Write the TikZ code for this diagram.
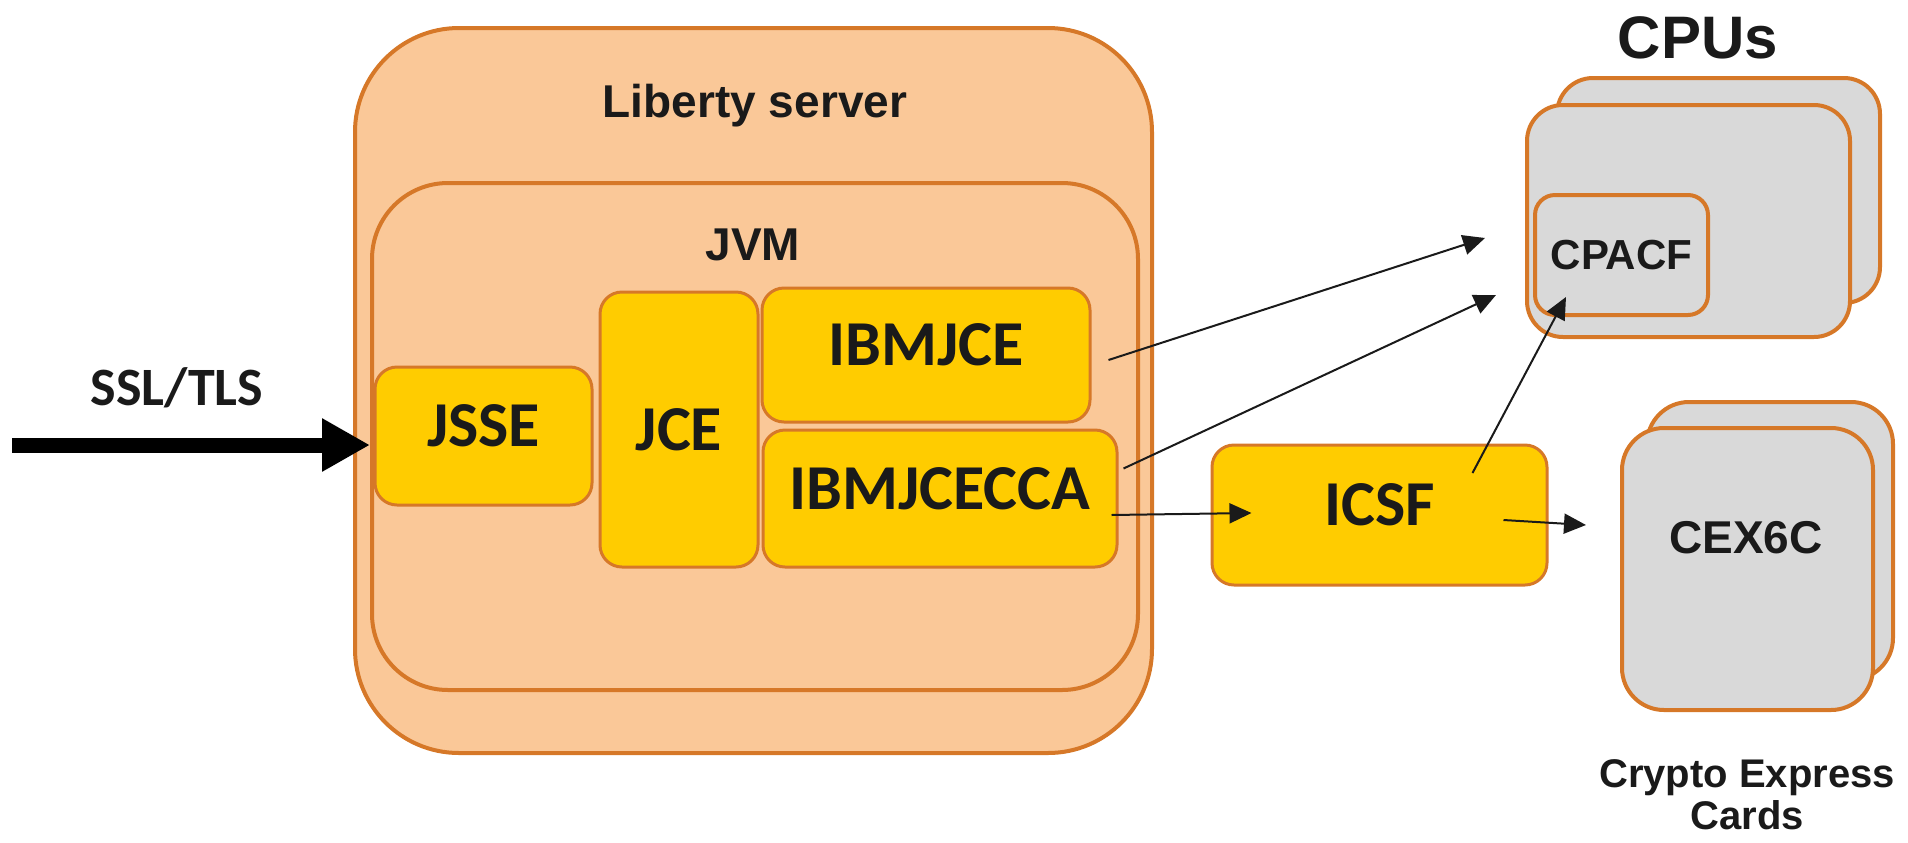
\documentclass[tikz,border=0pt]{standalone}
\usepackage{fontspec}
\setmainfont{Liberation Sans}
\newfontfamily\carlito{Carlito}
\usetikzlibrary{arrows.meta}
\usetikzlibrary{calc}
\definecolor{peach}{RGB}{250,200,152}
\definecolor{rim}{RGB}{214,120,40}
\definecolor{gold}{RGB}{255,204,0}
\definecolor{cardgray}{RGB}{217,217,217}
\definecolor{ink}{RGB}{26,26,26}

\begin{document}
\begin{tikzpicture}[
            x=0.5pt, y=-0.5pt,
            outerbox/.style = {draw=rim, line width=2pt, fill=peach, rounded corners=#1, inner sep=0},
            compbox/.style = {draw=rim, line width=1.5pt, fill=gold, rounded corners=11pt, inner sep=0,
                              text=ink, text depth=10pt, font=\carlito\bfseries\fontsize{32}{36}\selectfont},
            cardbox/.style = {draw=rim, line width=2pt, fill=cardgray, rounded corners=#1, inner sep=0},
            title/.style = {anchor=base, inner sep=0, text=ink, font=\bfseries\fontsize{23}{26}\selectfont},
            link/.style = {-{Triangle[length=11pt, width=10pt]}, line width=1pt, ink},
            bigarrow/.style = {-{Triangle[length=24pt, width=25pt]}, line width=7.5pt, black}
          ]
          \useasboundingbox (0,0) rectangle (1908,842);

          % server and JVM
          \node[outerbox=52pt, minimum width=398.5pt, minimum height=362.5pt] (liberty) at (753.5,390.5) {};
          \node[outerbox=38pt, minimum width=383pt, minimum height=253.5pt] (jvm) at (755,436.5) {};
          \node[title] (liberty_lbl) at (755,117) {Liberty server};
          \node[title] (jvm_lbl) at (753,260) {JVM};

          \node[compbox, minimum width=108.5pt, minimum height=69pt] (jsse) at (483.5,436) {JSSE};
          \node[compbox, text depth=0pt, minimum width=79pt, minimum height=137.5pt] (jce) at (679,429.5) {JCE};
          \node[compbox, minimum width=164pt, minimum height=67pt] (ibmjce) at (926,355) {IBMJCE};
          \node[compbox, minimum width=177pt, minimum height=68.5pt] (ibmjceca) at (940,498.5) {IBMJCECCA};
          \node[compbox, minimum width=167.5pt, minimum height=70pt] (icsf) at (1379.5,515) {ICSF};

          % hardware
          \node[cardbox=18pt, minimum width=161.5pt, minimum height=112.5pt] (cpu_back) at (1718.5,190.5) {};
          \node[cardbox=18pt, minimum width=161.5pt, minimum height=116pt] (cpu_front) at (1688.5,221) {};
          \node[cardbox=10pt, minimum width=86.5pt, minimum height=60pt, text=ink,
                font=\bfseries\fontsize{21}{24}\selectfont] (cpacf) at (1621.5,255) {CPACF};
          \node[title, font=\bfseries\fontsize{30}{34}\selectfont] (cpus_lbl) at (1698,58) {CPUs};

          \node[cardbox=21pt, minimum width=123pt, minimum height=139pt] (cex_back) at (1770,541) {};
          \node[cardbox=21pt, minimum width=125.5pt, minimum height=141pt] (cex_front) at (1747.5,569) {};
          \node[title] (cex_lbl) at (1746,553) {CEX6C};
          \node[align=center, inner sep=0, text=ink, font=\bfseries\fontsize{20}{21}\selectfont] (cex_note) at (1747,795) {Crypto Express\\Cards};

          % incoming traffic
          \coordinate (tls_in) at (12,445);
          \draw[bigarrow] (tls_in) -- (tls_in -| jvm.west);
          \node[title, font=\carlito\bfseries\fontsize{27}{30}\selectfont] (tls_lbl) at (177,405) {SSL/TLS};

          \draw[link] ($(ibmjce.east)+(17,5)$) -- ($(cpu_front.west)+(-40,17)$);
          \draw[link] ($(ibmjceca.east)+(5,-30)$) -- ($(cpu_front.west)+(-29,74)$);
          \draw[link] ($(ibmjceca.east)+(-7,16.5)$) -- ($(icsf.west)+(41,-2)$);
          \draw[link] ($(icsf.center)+(93,-42)$) -- ($(cpacf.south west)+(33,-20)$);
          \draw[link] ($(icsf.east)+(-45,5)$) -- ($(cex_front.west)+(-34,-44)$);
        \end{tikzpicture}
\end{document}
